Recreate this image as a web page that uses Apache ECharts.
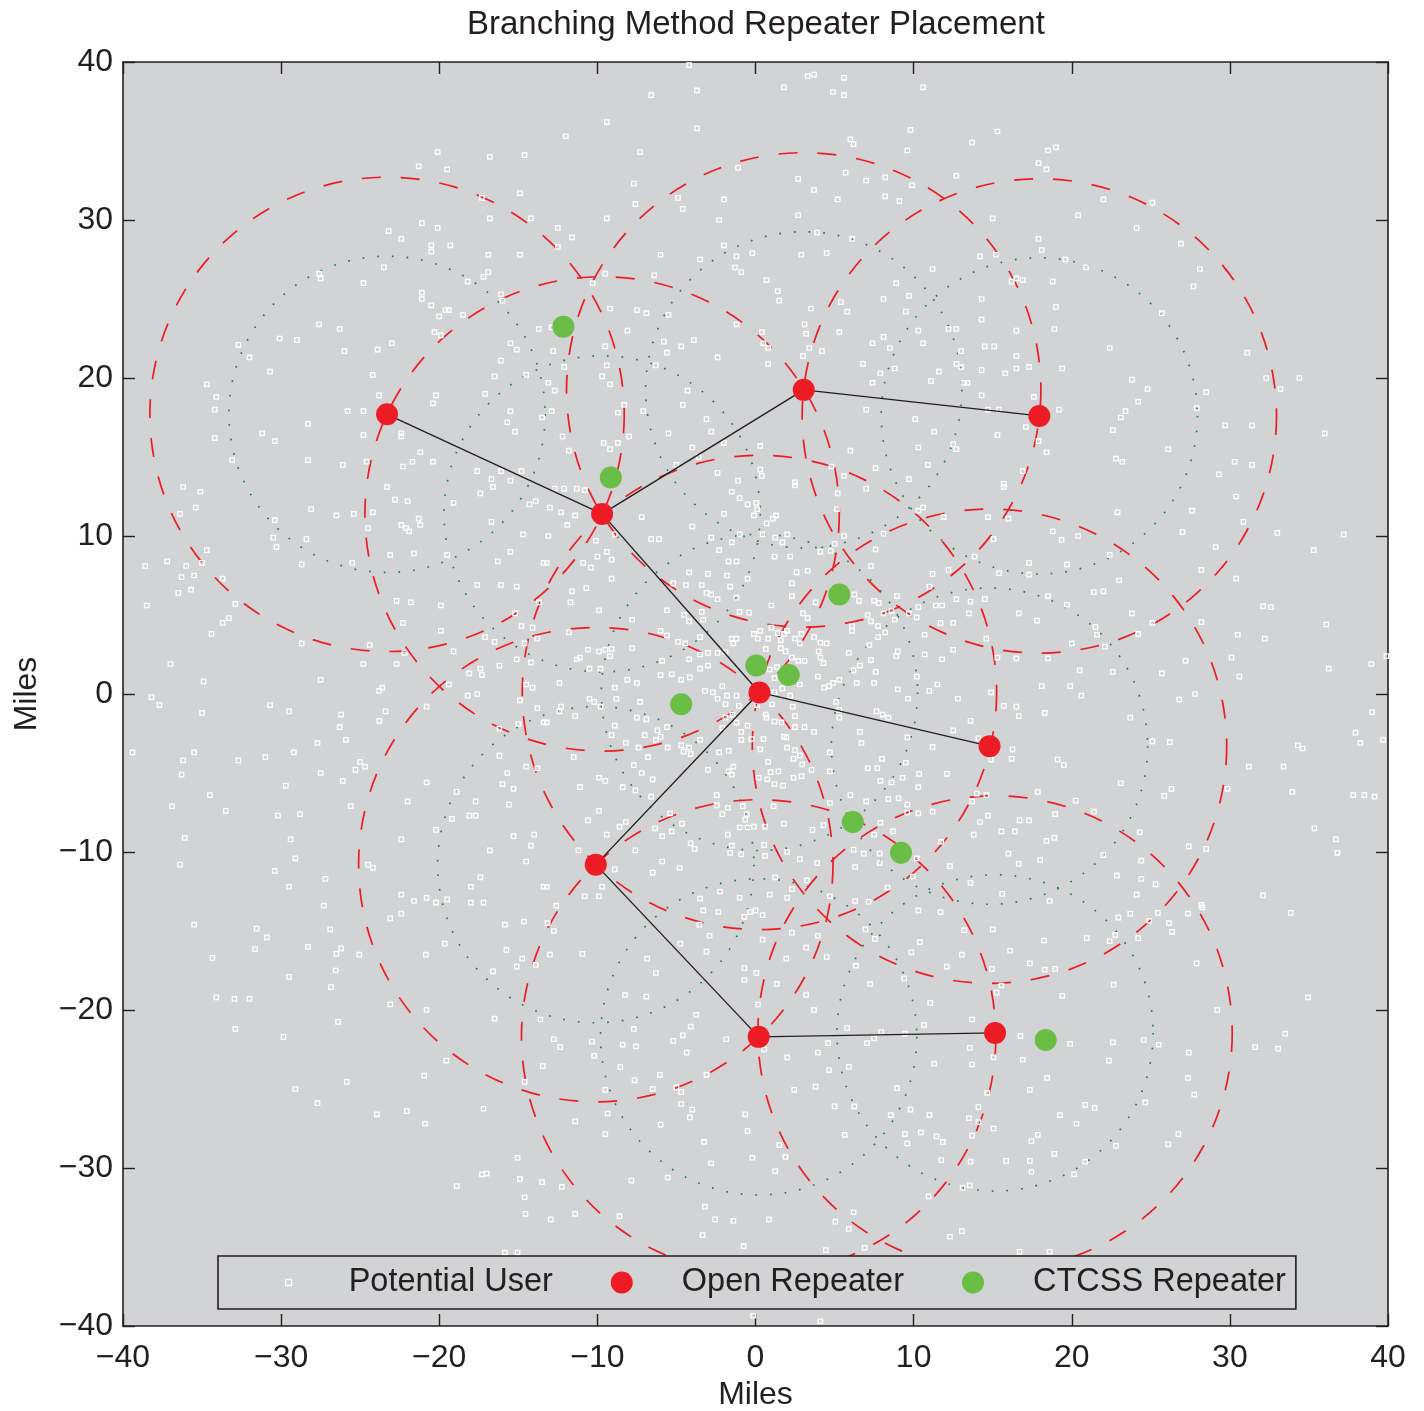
<!DOCTYPE html>
<html><head><meta charset="utf-8">
<script src="https://cdn.jsdelivr.net/npm/echarts@6/dist/echarts.min.js"></script>
<style>html,body{margin:0;padding:0;background:#fff}#c{width:1424px;height:1411px}</style>
</head><body><div id="c"></div><script>
// ---------- data ----------
const axisTicks = [-40, -30, -20, -10, 0, 10, 20, 30, 40];
const openRepeaters = [[-23.3,17.7],[-9.7,11.4],[3.05,19.25],[17.95,17.6],[0.25,0.1],[14.8,-3.3],[-10.1,-10.8],[0.2,-21.7],[15.15,-21.45]];
const ctcssRepeaters = [[-12.15,23.25],[-9.15,13.7],[5.3,6.3],[0.05,1.8],[2.1,1.2],[-4.7,-0.65],[6.15,-8.1],[9.2,-10.05],[18.35,-21.9]];
const treeLinks = [[0,1],[1,2],[2,3],[1,4],[4,5],[4,6],[6,7],[7,8]];
const outerRangeMiles = 15;
const innerRangeMiles = 10;
const users = [
[-20.1,34.3],[-16.8,34.0],[-14.6,34.1],[-21.3,33.4],[-19.5,33.2],[-14.9,31.7],[-17.3,31.4],[-16.8,30.1],[-14.2,30.1],[-21.1,29.8],[-20.1,29.5],[-23.2,29.3],[-22.4,28.8],[-20.5,28.4],[-19.3,28.4],[-20.5,28.0],[-16.9,27.8],[-14.9,27.8],[-23.5,27.0],[-27.6,26.6],[-27.5,26.3],[-16.9,26.7],[-17.2,26.4],[-18.2,26.1],[-24.8,26.0],[-21.1,25.4],[-21.1,25.0],[-16.1,25.3],[-16.0,24.9],[-20.5,24.6],[-19.6,24.3],[-19.4,24.3],[-20.0,23.9],[-18.5,24.0],[-13.7,23.1],[-27.6,23.4],[-26.3,23.1],[-20.3,22.9],[-19.9,22.7],[-30.1,22.5],[-29.0,22.4],[-32.7,22.1],[-32.0,21.3],[-26.0,21.7],[-23.9,21.8],[-23.0,22.2],[-15.5,22.2],[-15.1,21.8],[-16.1,21.1],[-30.7,20.4],[-24.2,20.2],[-16.5,20.1],[-14.5,20.2],[-34.7,19.6],[-34.1,18.8],[-23.8,18.9],[-20.2,18.9],[-20.4,18.4],[-17.1,19.0],[-34.2,18.0],[-25.8,17.9],[-24.8,17.9],[-15.5,17.9],[-15.7,17.2],[-13.5,17.5],[-28.3,17.1],[-31.2,16.5],[-30.4,16.0],[-24.8,16.4],[-22.4,16.5],[-22.4,16.3],[-15.2,16.6],[-34.2,16.2],[-33.1,14.8],[-28.3,14.8],[-26.1,14.5],[-24.6,14.7],[-21.2,15.3],[-21.7,14.7],[-20.4,14.7],[-22.3,14.4],[-17.6,14.1],[-16.1,14.1],[-14.8,14.1],[-16.7,13.6],[-15.5,13.5],
[-4.2,39.8],[-6.6,37.9],[-3.7,38.2],[-9.4,36.2],[-12.0,35.3],[-7.3,34.3],[-3.7,35.8],[3.3,39.1],[3.7,39.2],[5.6,39.0],[1.8,38.4],[4.9,38.1],[5.6,37.9],[10.6,38.4],[9.8,35.7],[6.0,35.1],[6.2,34.8],[9.6,34.4],[-1.1,33.3],[-7.7,32.3],[-7.6,31.0],[-4.9,31.4],[-4.6,30.7],[-2.0,31.3],[-2.3,30.0],[-9.4,30.1],[-12.5,29.5],[-11.6,28.9],[-12.5,28.3],[2.7,32.6],[3.7,31.9],[5.7,33.0],[7.0,32.5],[8.2,32.7],[9.9,32.2],[12.7,32.8],[5.2,31.3],[8.2,31.5],[9.1,31.2],[2.7,30.3],[3.9,29.2],[6.1,28.8],[-2.0,28.4],[-1.2,27.7],[-0.2,27.9],[-3.5,27.5],[-6.0,27.8],[-1.3,27.0],[-0.9,26.7],[2.9,27.8],[4.5,27.9],[11.2,26.9],[-9.5,26.6],[-6.4,26.5],[-10.3,26.0],[0.7,26.2],[1.4,25.5],[1.5,24.9],[8.9,26.0],[8.1,25.0],[9.7,25.2],[9.5,24.2],[5.4,24.8],[5.8,24.2],[3.5,24.4],[-9.2,24.4],[-7.5,24.3],[-6.9,24.1],[-5.5,24.0],[-1.2,23.4],[3.1,23.4],[3.2,22.8],[5.3,22.9],[0.4,22.9],[0.5,22.2],[0.8,21.9],[0.8,20.9],[-8.1,23.0],[-12.9,23.2],[10.3,23.0],[12.2,23.1],[12.7,23.1],[8.1,22.6],[7.4,22.2],[8.5,21.9],[10.6,22.2],[13.0,21.7],[-12.8,21.7],[-9.5,22.0],[-5.8,22.3],[-4.7,22.0],[-3.9,22.4],[-2.4,21.3],[-5.6,21.6],[-9.4,20.8],[-12.1,20.7],[-6.3,20.8],[-9.7,20.1],[-9.2,19.6],[-13.1,19.7],[-12.7,19.2],[3.0,21.4],[3.4,21.9],[4.2,21.7],[6.8,20.9],[7.9,20.3],[8.8,20.6],[12.7,20.9],[13.0,20.7],[11.6,20.4],[11.1,19.8],[7.4,19.7],[13.2,19.7],[-4.3,19.2],[-4.6,18.3],[-8.3,18.3],[-8.7,17.8],[-7.1,17.9],[-12.9,17.9],[-3.1,17.4],[-2.8,16.6],[-5.5,16.5],[-12.2,16.3],[-9.6,15.9],[-8.7,15.9],[-8.0,16.3],[-9.2,15.5],[-11.8,15.4],[-4.0,15.6],[-3.6,15.0],[-2.0,15.9],[0.3,15.7],[7.0,18.0],[10.1,17.4],[11.3,16.6],[10.3,15.6],[12.5,15.8],[12.7,15.5],[6.0,15.4],[10.9,14.5],[7.6,14.3],[5.6,13.8],[9.7,13.6],[4.8,14.4],[0.3,14.2],[0.4,13.8],[-2.4,14.0],[-1.1,13.5],[-5.0,14.5],[2.5,13.4],
[15.3,35.6],[13.7,34.9],[18.5,34.4],[19.0,34.6],[17.9,33.6],[18.4,33.2],[22.0,31.3],[25.1,31.1],[20.4,30.3],[15.0,30.1],[24.1,29.5],[26.9,28.5],[17.9,28.8],[18.1,28.1],[14.2,27.7],[15.2,27.8],[19.6,27.5],[20.9,27.0],[16.2,26.1],[16.5,26.3],[16.9,26.2],[18.8,26.1],[28.1,26.9],[27.7,25.8],[14.3,25.0],[19.0,24.5],[25.7,24.1],[14.3,23.7],[16.5,23.0],[18.9,23.1],[22.4,21.9],[31.1,21.6],[14.5,22.0],[15.1,22.0],[16.5,21.4],[14.3,20.5],[15.8,20.3],[16.5,20.6],[17.3,20.7],[19.4,20.6],[13.4,19.7],[23.8,19.9],[24.8,19.3],[32.3,20.0],[34.4,20.0],[33.2,19.3],[28.5,19.1],[14.3,18.9],[17.6,18.8],[24.2,18.5],[23.4,17.9],[23.1,17.5],[27.9,18.1],[14.7,18.0],[15.4,18.0],[19.2,18.0],[17.1,16.9],[22.6,16.7],[29.7,17.0],[31.4,17.0],[36.0,16.5],[15.3,16.4],[17.9,16.0],[18.4,15.3],[26.1,15.5],[22.8,14.9],[23.2,14.7],[30.3,14.7],[31.4,14.5],[29.3,13.9],[16.9,14.1],[15.7,13.3],
[-36.2,13.1],[-35.1,12.8],[-35.4,11.8],[-36.4,11.4],[-30.4,11.0],[-30.5,9.9],[-30.3,9.3],[-28.4,9.8],[-28.1,11.7],[-26.5,11.3],[-25.4,11.4],[-24.2,11.5],[-24.5,10.5],[-23.3,13.1],[-22.8,12.3],[-22.0,12.2],[-17.4,12.7],[-16.6,13.1],[-19.1,12.1],[-14.3,12.0],[-13.9,12.2],[-21.3,11.1],[-21.2,10.7],[-22.4,10.7],[-22.1,10.5],[-21.9,10.3],[-16.7,10.9],[-14.7,10.1],[-34.7,9.1],[-35.0,8.3],[-36.0,8.1],[-37.2,8.4],[-38.6,8.1],[-36.3,7.4],[-35.5,7.5],[-36.5,6.4],[-35.7,6.6],[-33.7,7.3],[-38.5,5.6],[-32.9,5.7],[-33.3,4.8],[-33.7,4.5],[-34.4,3.8],[-28.7,8.2],[-25.5,8.3],[-23.1,8.8],[-21.6,8.9],[-19.5,8.8],[-15.5,9.0],[-16.3,8.4],[-17.6,6.9],[-16.1,6.9],[-15.1,6.8],[-13.4,8.3],[-22.7,5.9],[-21.8,5.8],[-19.9,5.6],[-22.3,4.5],[-19.9,4.0],[-15.2,5.1],[-14.8,4.3],[-14.1,4.2],[-13.7,5.8],[-17.1,3.6],[-16.5,3.3],[-14.6,3.2],[-13.8,3.5],[-28.7,3.2],[-24.4,3.1],[-22.2,2.6],[-19.1,2.7],[-37.0,1.9],[-24.8,1.9],[-22.7,1.9],[-15.1,2.2],[-14.2,2.0],[-16.2,1.8],[-17.4,1.6],[-17.3,1.2],[-18.1,1.3],[-34.9,0.8],[-27.5,0.9],[-19.4,0.6],[-23.6,0.4],[-23.8,0.2],[-14.5,0.6],[-14.1,0.4],[-17.6,0.0],[-18.2,-0.1],[-38.2,-0.2],[-37.7,-0.7],[-35.0,-1.2],[-30.7,-0.7],[-29.5,-1.1],[-26.2,-1.3],[-23.4,-1.1],[-20.8,-0.8],[-23.8,-1.7],[-26.3,-2.1],[-25.9,-2.9],[-14.9,-0.4],[-13.8,-0.9],[-13.4,-1.8],[-15.0,-1.9],[-16.2,-2.2],[-27.7,-3.1],[-39.4,-3.7],[-35.5,-3.7],[-36.2,-4.2],[-32.7,-4.2],[-31.0,-4.0],[-29.2,-3.7],[-25.0,-4.3],[-25.3,-4.8],[-24.7,-4.6],[-16.2,-3.9],[-14.5,-4.6],[-13.8,-4.7],[-36.3,-5.1],[-27.5,-5.0],[-26.1,-5.5],[-20.8,-5.6],[-29.7,-5.8],[-15.7,-5.0],[-16.0,-5.7],[-15.3,-6.0],[-34.5,-6.4],[-18.9,-6.2],[-22.0,-6.8],[-17.7,-6.8],[-15.6,-7.0],[-36.9,-7.1],[-33.5,-7.4],[-30.2,-7.7],[-28.8,-7.6],[-25.6,-7.1],[-19.2,-7.9],[-18.1,-7.7],[-17.7,-7.7],[-20.2,-8.6],[-36.1,-9.1],[-29.4,-9.2],[-22.4,-9.2],[-15.3,-9.0],[-14.0,-8.9],[-14.2,-9.6],[-16.8,-9.9],[-14.5,-10.6],[-36.4,-10.8],[-29.1,-10.4],[-30.4,-11.2],[-24.5,-10.8],[-24.2,-11.0],[-27.2,-11.7],[-29.5,-12.2],[-17.4,-11.6],[-18.0,-12.2],[-13.4,-12.2],[-22.4,-12.7],[-21.6,-13.1],[-20.8,-12.9],[-20.2,-13.2],[-19.5,-13.0],[-18.0,-13.2],[-17.2,-13.2],[-27.3,-13.4],
[-12.7,13.0],[-12.1,13.0],[-11.3,13.0],[-10.8,12.9],[-13.0,11.8],[-12.3,11.5],[-11.4,11.3],[-11.9,10.7],[-13.1,10.0],[-7.2,11.2],[-8.9,10.1],[-10.1,9.7],[-9.4,9.0],[-9.1,8.5],[-10.9,8.3],[-10.4,8.0],[-10.0,8.7],[-13.2,8.3],[-9.1,7.3],[-11.6,6.5],[-10.7,6.7],[-11.7,5.8],[-9.9,5.3],[-7.8,4.7],[-11.8,3.9],[-7.8,2.9],[-10.6,2.8],[-9.9,2.7],[-9.5,2.8],[-9.1,2.85],[-9.2,2.4],[-11.1,2.3],[-11.3,2.2],[-10.5,1.6],[-12.4,0.7],[-9.8,1.6],[-8.1,0.9],[-7.5,0.7],[-8.9,0.4],[-10.5,-0.3],[-10.2,-0.5],[-9.8,-0.8],[-12.4,-1.1],[-12.3,-0.8],[-11.4,-1.4],[-13.2,-1.8],[-8.8,-0.3],[-7.3,-0.5],[-8.9,-2.0],[-9.1,-2.6],[-8.2,-3.1],[-7.4,-3.4],[-7.5,-1.5],[-6.9,-1.6],[-7.0,-2.6],[-6.2,-2.3],[-6.0,-2.7],[-5.6,-2.1],[-6.3,-2.9],[-6.8,-4.0],[-7.7,-4.5],[-11.5,-4.0],[-9.9,-5.3],[-9.5,-5.5],[-11.1,-5.9],[-8.4,-5.9],[-7.6,-6.1],[-7.2,-5.0],[-6.5,-5.4],[-6.6,-6.5],[-9.9,-7.4],[-10.6,-8.0],[-9.4,-8.9],[-8.6,-8.4],[-8.2,-8.1],[-7.6,-9.9],[-8.9,-11.1],[-11.2,-9.9],[-5.9,-10.6],[-6.5,-11.3],[-4.8,-11.0],[-10.8,-12.8],[-9.9,-12.8],[-9.7,-12.2],[-13.2,-12.2],[-12.6,-13.4],
[-6.6,9.8],[-6.1,9.8],[-4.2,7.7],[-3.0,7.6],[-1.8,7.5],[-5.2,7.0],[-4.4,6.9],[-3.4,6.9],[-3.1,6.4],[-2.8,6.3],[-2.4,6.0],[-1.6,6.8],[-1.7,8.4],[-1.2,8.4],[-2.3,9.1],[-2.8,9.9],[-1.5,9.6],[-1.0,10.1],[-2.0,11.4],[-4.0,10.6],[-1.5,12.8],[-1.0,12.4],[-0.5,12.0],[0.05,12.1],[0.1,11.7],[-0.1,11.3],[0.45,10.1],[0.7,10.8],[1.1,11.1],[1.3,11.3],[1.25,9.9],[1.7,9.6],[2.0,10.1],[1.2,8.7],[2.2,8.7],[2.5,13.2],[4.1,9.0],[4.75,9.05],[5.0,9.5],[5.6,10.0],[5.2,12.7],[5.15,11.7],[7.0,13.0],[7.6,9.15],[8.1,10.15],[7.3,8.1],[10.6,11.8],[10.3,11.6],[11.9,11.2],[12.2,7.85],[11.2,7.6],[11.0,6.8],[12.7,6.0],[2.6,7.7],[3.3,7.8],[2.3,7.0],[-0.5,7.3],[-1.2,6.1],[2.3,6.2],[1.0,5.6],[3.8,5.8],[3.0,5.1],[3.3,4.8],[6.25,6.3],[6.55,5.9],[7.5,5.9],[7.8,5.75],[8.95,6.2],[7.1,5.0],[7.3,4.6],[8.1,5.1],[8.6,5.25],[8.8,4.7],[9.7,5.1],[10.3,5.5],[11.4,5.6],[11.8,5.6],[10.2,4.85],[11.7,4.5],[12.5,4.5],[6.1,4.3],[6.1,4.0],[7.75,4.3],[7.75,3.6],[8.2,3.9],[10.7,3.75],[12.5,2.8],[-3.4,5.2],[-3.3,4.7],[-4.5,5.0],[-4.2,4.6],[-5.6,5.3],[-1.0,5.2],[-0.4,5.15],[-6.0,4.0],[-5.6,3.7],[-4.9,3.3],[-4.45,3.2],[-3.5,3.6],[-4.2,2.2],[-3.5,2.5],[-3.0,2.6],[-2.4,2.6],[-1.9,2.65],[-1.5,3.5],[-1.2,3.5],[-1.4,3.2],[-0.1,3.8],[0.3,4.0],[0.15,3.5],[0.8,3.5],[1.0,4.2],[1.4,3.85],[1.8,3.8],[2.0,4.0],[2.9,3.8],[2.5,3.5],[1.6,3.4],[1.6,2.9],[0.65,2.85],[2.8,3.2],[1.9,2.7],[2.3,2.3],[2.7,2.1],[3.1,2.1],[3.7,3.6],[4.1,3.25],[4.5,3.2],[4.0,2.7],[4.1,2.3],[4.3,1.95],[5.9,2.6],[6.2,1.5],[6.6,1.8],[7.2,3.1],[7.3,2.15],[7.6,1.4],[8.9,2.4],[9.0,2.7],[10.2,1.1],[10.7,2.5],[9.0,0.3],[9.65,-0.3],[11.0,0.2],[11.5,0.6],[12.8,-0.3],[11.8,2.2],[7.5,0.7],[6.4,0.7],[5.3,0.9],[4.9,0.7],[4.35,0.4],[4.65,0.5],[3.95,1.1],[5.1,-0.5],[2.8,0.6],[2.2,0.7],[1.7,0.35],[2.2,-0.1],[1.2,0.1],[1.2,1.0],[0.9,1.55],[1.35,1.7],[-3.0,1.8],[-3.5,1.6],[-5.9,2.1],[-6.0,1.2],[-5.3,1.25],[-4.7,0.9],[-4.15,1.05],[-3.2,0.2],[-2.7,0.1],[-2.1,0.5],[-2.4,-0.3],[-1.8,-0.1],[-1.2,-0.1],[-1.05,-0.75],[-1.9,-0.65],[-1.45,-1.3],[-1.9,-1.5],[-2.1,-2.15],[-1.2,-1.8],[-0.5,-2.0],[-0.9,-2.4],[0.65,-1.3],[0.1,-0.7],[1.05,-0.65],[0.7,-1.5],[1.2,-1.75],[1.65,-1.8],[1.8,-2.7],[2.35,-0.8],[2.5,-1.4],[2.5,-2.1],[3.1,-2.1],[3.7,-2.4],[4.7,-3.7],[5.3,-1.5],[5.3,-1.0],[6.6,-2.4],[6.7,-3.1],[7.65,-1.1],[8.05,-1.3],[8.4,-1.5],[9.6,-2.75],[11.2,-3.35],[12.5,-2.3],[8.0,-4.1],[9.5,-4.35],[8.6,-5.6],[9.3,-5.3],[10.35,-5.05],[10.3,-5.9],[12.1,-5.05],[7.1,-4.7],[7.7,-4.7],[7.9,-5.5],[8.4,-6.65],[9.05,-6.6],[9.6,-7.0],[9.6,-7.5],[10.3,-7.55],[11.2,-7.45],[11.75,-9.35],[7.0,-6.8],[6.0,-6.4],[4.7,-6.9],[4.7,-4.9],[3.55,-4.8],[2.9,-5.2],[2.4,-5.3],[1.75,-5.8],[1.2,-5.7],[0.75,-5.4],[0.95,-4.95],[1.45,-4.9],[0.8,-4.3],[0.3,-3.5],[0.5,-2.85],[-0.25,-2.85],[-0.9,-2.9],[-1.7,-3.6],[-2.3,-3.7],[-1.7,-4.9],[-1.4,-4.6],[-1.5,-5.1],[-3.0,-4.8],[-3.5,-2.9],[-4.2,-3.4],[-4.55,-3.65],[-4.1,-3.8],[-4.7,-3.25],[-5.55,-3.4],[1.95,-2.75],[2.0,-3.4],[2.5,-3.55],[2.4,-4.1],[2.8,-3.9],[0.2,-5.3],[2.95,-4.45],[4.3,-8.3],[3.6,-8.6],[1.8,-8.2],[-0.5,-8.45],[-0.1,-8.4],[0.6,-8.4],[-1.0,-8.45],[-0.65,-7.95],[-0.55,-7.6],[-0.8,-7.1],[-2.1,-7.6],[-2.45,-7.05],[-2.45,-6.4],[-1.75,-7.2],[-1.75,-8.9],[-1.5,-9.6],[-1.6,-10.05],[-0.9,-10.15],[0.55,-9.55],[0.6,-10.25],[2.0,-10.0],[2.8,-10.45],[3.9,-10.7],[1.15,-7.1],[6.3,-10.95],[6.2,-9.85],[6.85,-10.1],[7.5,-8.9],[7.85,-10.1],[7.85,-10.7],[7.9,-8.15],[8.7,-8.7],[12.3,-10.9],[1.25,-11.6],[2.3,-12.35],[3.25,-11.8],[2.0,-12.9],[0.9,-12.7],[-1.0,-12.9],[-2.25,-12.5],[-3.5,-12.95],[-5.3,-8.7],[-4.65,-8.2],[-5.4,-7.55],[-4.1,-9.45],[-3.85,-9.8],[-6.35,-8.5],[-5.9,-9.0],[4.7,-12.8],[6.3,-13.1],[7.15,-13.15],[9.95,-11.55],[10.2,-10.4],[8.35,-12.25],
[15.7,13.1],[30.4,12.5],[27.6,11.6],[22.9,11.5],[14.7,11.2],[16.0,11.1],[30.85,10.9],[27.0,10.25],[33.0,10.2],[37.2,10.1],[35.3,9.1],[18.8,10.3],[19.35,9.75],[20.4,10.0],[15.05,9.8],[29.1,9.3],[22.4,8.8],[13.85,8.7],[17.3,8.3],[19.7,8.2],[15.4,7.65],[17.3,7.55],[28.2,7.85],[30.4,7.3],[23.0,7.2],[21.4,6.45],[22.0,6.5],[18.5,6.2],[13.6,5.85],[14.5,6.0],[13.5,5.1],[16.65,5.1],[17.8,4.65],[19.7,5.65],[32.1,5.55],[32.6,5.5],[36.1,4.4],[23.8,5.1],[28.2,4.55],[21.5,4.25],[21.6,3.75],[25.1,4.5],[24.2,3.8],[30.5,3.75],[32.2,3.5],[14.6,3.5],[20.0,3.2],[22.1,3.0],[15.3,2.3],[16.5,2.25],[18.5,2.25],[27.2,2.1],[30.1,2.3],[36.25,1.6],[38.95,1.9],[39.9,2.4],[20.5,1.5],[22.6,1.4],[25.7,1.3],[30.6,1.1],[18.1,0.5],[19.9,0.5],[20.6,-0.1],[14.9,0.1],[15.7,-0.75],[16.5,-0.8],[16.65,-1.4],[18.3,-1.2],[26.8,-0.35],[27.8,0.0],[39.0,-1.15],[13.6,-1.7],[23.7,-1.5],[14.1,-2.8],[16.25,-3.5],[16.2,-4.1],[14.9,-4.15],[19.1,-4.15],[19.5,-4.5],[25.1,-3.0],[26.2,-3.05],[37.95,-2.45],[38.25,-3.1],[39.7,-2.9],[34.3,-3.25],[34.6,-3.45],[31.2,-4.6],[33.4,-4.6],[23.1,-5.65],[26.3,-6.0],[25.85,-6.45],[29.85,-6.0],[33.95,-6.2],[37.8,-6.4],[38.5,-6.4],[39.15,-6.5],[14.0,-6.3],[14.6,-6.4],[13.7,-6.8],[17.85,-6.2],[20.25,-6.75],[21.4,-7.45],[18.95,-7.6],[14.7,-7.7],[14.2,-8.1],[16.7,-8.0],[17.3,-8.0],[13.8,-8.9],[15.55,-8.7],[16.4,-8.7],[18.4,-9.3],[18.9,-9.1],[24.3,-8.75],[35.35,-8.5],[36.7,-9.2],[36.8,-10.05],[16.0,-10.1],[16.65,-10.75],[18.0,-10.5],[22.0,-10.2],[27.4,-9.65],[28.5,-9.8],[24.4,-10.55],[22.85,-11.5],[24.4,-11.7],[25.3,-12.05],[24.1,-12.7],[13.6,-11.95],[15.6,-12.65],[18.6,-13.1],[32.1,-12.75],[28.2,-13.35],
[-35.5,-14.6],[-34.35,-16.7],[-31.55,-14.85],[-30.9,-15.4],[-31.65,-16.15],[-28.3,-16.0],[-26.9,-14.9],[-26.5,-16.45],[-26.2,-16.1],[-26.55,-17.5],[-29.5,-17.9],[-26.85,-18.55],[-25.05,-16.5],[-23.1,-14.2],[-22.4,-13.9],[-20.85,-16.5],[-19.65,-15.8],[-15.85,-14.6],[-14.65,-14.4],[-15.75,-16.2],[-14.75,-16.75],[-15.1,-17.25],[-13.9,-17.15],[-16.6,-17.55],[-34.1,-19.2],[-32.95,-19.3],[-32.0,-19.3],[-32.9,-21.2],[-29.85,-21.7],[-26.4,-20.75],[-23.1,-19.65],[-20.8,-20.0],[-16.5,-20.55],[-13.6,-20.6],[-19.55,-23.2],[-20.95,-24.15],[-14.6,-24.55],[-13.45,-23.55],[-29.1,-25.0],[-27.7,-25.9],[-25.85,-24.55],[-23.95,-26.6],[-22.05,-26.4],[-20.9,-27.2],[-17.2,-26.25],[-15.05,-29.35],[-17.3,-30.4],[-17.0,-30.35],[-18.9,-31.15],[-14.9,-30.7],[-13.5,-30.9],[-14.6,-31.85],[-14.55,-32.9],[-15.85,-35.35],[-15.05,-35.35],
[-13.15,-14.5],[-12.75,-15.0],[-13.0,-16.5],[-10.95,-16.45],[-6.85,-16.75],[-6.3,-17.65],[-8.25,-19.05],[-6.9,-19.15],[-4.75,-15.8],[-3.55,-14.6],[-2.9,-15.3],[-3.3,-13.7],[-2.35,-13.8],[-3.1,-16.3],[-0.7,-14.1],[-0.35,-13.8],[0.0,-13.7],[0.45,-14.0],[0.45,-15.55],[2.3,-15.1],[3.95,-15.3],[3.2,-16.05],[1.95,-16.75],[4.5,-16.65],[-0.7,-17.35],[0.05,-17.65],[-0.7,-18.1],[1.35,-18.35],[3.2,-19.05],[3.7,-20.0],[0.15,-19.65],[6.95,-14.9],[7.55,-15.5],[10.4,-15.7],[9.85,-16.35],[11.7,-13.8],[10.3,-13.7],[13.2,-14.95],[13.05,-16.5],[12.1,-17.25],[6.35,-17.2],[7.25,-18.35],[9.4,-18.0],[11.05,-19.55],[10.65,-20.95],[9.45,-21.5],[7.95,-21.4],[7.5,-21.8],[7.05,-22.1],[5.8,-21.15],[4.6,-22.1],[3.95,-22.7],[2.0,-23.0],[0.55,-22.5],[-1.85,-21.85],[-3.75,-20.3],[-4.1,-21.05],[-4.6,-21.6],[-5.2,-21.95],[-4.35,-22.7],[-7.7,-21.2],[-10.35,-22.0],[-12.35,-22.35],[-12.75,-21.85],[-10.2,-22.9],[-8.4,-22.2],[-7.55,-22.3],[-8.55,-23.6],[-7.65,-24.45],[-9.5,-25.05],[-6.5,-25.0],[-6.05,-24.1],[-5.0,-24.9],[-4.7,-25.2],[-3.1,-24.1],[-4.7,-25.95],[-4.0,-26.3],[-4.15,-26.8],[-6.0,-27.25],[-9.35,-26.55],[-9.5,-27.85],[-11.4,-27.05],[5.9,-23.6],[4.65,-23.8],[3.8,-24.85],[2.45,-25.05],[11.3,-23.4],[8.95,-24.95],[5.0,-26.1],[6.25,-26.1],[8.55,-26.65],[9.8,-26.3],[11.0,-26.65],[9.45,-27.85],[10.45,-27.75],[9.6,-28.45],[11.45,-28.0],[11.85,-28.35],[5.65,-27.9],[-0.65,-26.6],[-0.5,-27.65],[1.5,-28.55],[1.9,-29.3],[1.25,-30.2],[-0.2,-29.35],[-2.8,-29.7],[-3.25,-28.35],[-5.55,-30.6],[-7.85,-30.8],[-12.25,-31.2],[-11.4,-32.9],[-12.95,-33.25],[-8.6,-33.05],[-3.2,-32.45],[-2.55,-33.25],[-1.4,-33.35],[0.85,-33.25],[5.05,-33.4],[5.9,-33.85],[6.2,-32.8],[-3.35,-34.25],[-0.75,-34.95],[4.45,-35.2],[6.9,-35.05],[11.75,-29.5],[10.95,-31.8],[13.1,-31.25],[12.3,-34.35],[13.05,-34.0],[-0.15,-39.35],[4.1,-39.7],
[33.85,-13.85],[28.25,-13.5],[27.35,-13.9],[26.15,-14.5],[26.35,-15.05],[25.45,-13.85],[24.9,-14.35],[23.7,-13.9],[22.95,-14.15],[24.2,-15.45],[22.75,-15.25],[22.4,-15.65],[20.95,-15.45],[18.25,-15.6],[15.0,-14.9],[16.1,-16.25],[17.35,-17.05],[18.3,-17.45],[18.95,-17.4],[14.95,-17.4],[15.55,-18.45],[15.25,-18.9],[19.4,-19.1],[27.9,-17.05],[22.65,-18.4],[34.95,-19.2],[29.2,-20.0],[13.7,-20.6],[16.75,-21.65],[19.9,-22.15],[22.6,-22.05],[22.35,-23.2],[24.55,-21.9],[25.5,-22.2],[27.4,-22.7],[31.6,-22.35],[33.05,-22.45],[33.5,-21.5],[13.55,-22.4],[13.7,-23.45],[15.05,-23.0],[16.9,-23.15],[18.45,-24.3],[27.35,-24.3],[27.75,-25.35],[17.35,-25.05],[24.65,-25.85],[20.85,-26.0],[21.45,-26.2],[14.65,-25.25],[14.1,-26.15],[13.5,-26.85],[14.1,-27.1],[15.05,-27.5],[13.7,-27.95],[19.25,-26.65],[20.3,-27.2],[17.85,-27.9],[17.45,-28.3],[18.9,-29.1],[15.85,-29.55],[17.35,-29.55],[17.45,-30.25],[13.6,-29.6],[13.55,-31.1],[26.75,-27.85],[26.1,-28.5],[22.8,-28.6],[20.85,-29.6],[20.15,-30.4],[16.7,-35.3],[18.6,-35.3]
];

// ---------- chart ----------
const INK = '#231f20';
const RED = '#ed1c24';
const GREEN = '#6abd45';
const FONT = "'Liberation Sans', Arial, Helvetica, sans-serif";
const fmt = v => v < 0 ? '\u2212' + Math.abs(v) : String(v);

const chart = echarts.init(document.getElementById('c'), null, {renderer: 'canvas', width: 1424, height: 1411});

function axisBase(pos, showLabel) {
  return {
    type: 'value', position: pos,
    min: axisTicks[0], max: axisTicks[axisTicks.length - 1], interval: axisTicks[1] - axisTicks[0],
    axisLine: {show: true, onZero: false, lineStyle: {color: INK, width: 1.6}},
    axisTick: {show: true, inside: true, length: 12, lineStyle: {color: INK, width: 1.4}},
    splitLine: {show: false},
    axisLabel: {show: showLabel, fontSize: 32, color: INK, fontFamily: FONT, formatter: fmt, showMinLabel: true, showMaxLabel: true}
  };
}

const xBottom = axisBase('bottom', true);
xBottom.axisLabel.margin = 16;
xBottom.name = 'Miles'; xBottom.nameLocation = 'middle'; xBottom.nameGap = 53;
xBottom.nameTextStyle = {fontSize: 32, color: INK, fontFamily: FONT};
const xTop = axisBase('top', false);
const yLeft = axisBase('left', true);
yLeft.axisLabel.margin = 10;
yLeft.name = 'Miles'; yLeft.nameLocation = 'middle'; yLeft.nameGap = 80;
yLeft.nameTextStyle = {fontSize: 32, color: INK, fontFamily: FONT};
const yRight = axisBase('right', false);

function circleSeries(radius, style, z) {
  return {
    type: 'custom', xAxisIndex: 0, yAxisIndex: 0, silent: true, z: z,
    data: openRepeaters.map(p => [p[0], p[1], radius]),
    encode: {x: 0, y: 1},
    renderItem: function (params, api) {
      const c = api.coord([api.value(0), api.value(1)]);
      const r = api.size([api.value(2), 0])[0];
      return {type: 'circle', shape: {cx: c[0], cy: c[1], r: r}, style: Object.assign({fill: 'none'}, style)};
    }
  };
}

chart.setOption({
  animation: false,
  textStyle: {fontFamily: FONT},
  title: {
    text: 'Branching Method Repeater Placement', left: 467, top: 8, padding: 0,
    textStyle: {fontSize: 33, fontWeight: 'normal', color: INK, fontFamily: FONT}
  },
  grid: {left: 123, top: 62, width: 1265, height: 1264, show: true, backgroundColor: '#d1d3d4', borderWidth: 0, containLabel: false, outerBoundsMode: 'none'},
  xAxis: [xBottom, xTop],
  yAxis: [yLeft, yRight],
  legend: {
    left: 218, top: 1256, orient: 'horizontal', selectedMode: false,
    padding: [10, 10, 10, 59], itemWidth: 22, itemHeight: 22, itemGap: 58,
    backgroundColor: '#d1d3d4', borderColor: INK, borderWidth: 1.6, borderRadius: 0,
    textStyle: {fontSize: 32.5, color: INK, fontFamily: FONT, padding: [0, 0, 0, 44]},
    data: [
      {name: 'Potential User', icon: 'path://M0,0M22,22M8,8L14,8L14,14L8,14Z', itemStyle: {color: 'rgba(0,0,0,0)', borderColor: '#ffffff', borderWidth: 1.3, opacity: 1}},
      {name: 'Open Repeater', icon: 'circle', itemStyle: {opacity: 1}},
      {name: 'CTCSS Repeater', icon: 'circle', itemStyle: {opacity: 1}}
    ]
  },
  series: [
    circleSeries(innerRangeMiles, {stroke: '#217a55', lineWidth: 1.7, lineDash: [1.7, 13]}, 1),
    circleSeries(outerRangeMiles, {stroke: RED, lineWidth: 1.7, lineDash: [19, 20]}, 1),
    {
      name: 'Potential User', type: 'scatter', xAxisIndex: 0, yAxisIndex: 0, z: 2, silent: true,
      symbol: 'rect', symbolSize: 4.4,
      itemStyle: {color: 'rgba(0,0,0,0)', borderColor: '#ffffff', borderWidth: 1.3, opacity: 1},
      data: users
    },
    {
      type: 'lines', coordinateSystem: 'cartesian2d', xAxisIndex: 0, yAxisIndex: 0, z: 3, silent: true,
      lineStyle: {color: INK, width: 1.4, opacity: 1},
      data: treeLinks.map(l => ({coords: [openRepeaters[l[0]], openRepeaters[l[1]]]}))
    },
    {
      name: 'Open Repeater', type: 'scatter', xAxisIndex: 0, yAxisIndex: 0, z: 4, silent: true,
      symbol: 'circle', symbolSize: 22, itemStyle: {color: RED, opacity: 1},
      data: openRepeaters
    },
    {
      name: 'CTCSS Repeater', type: 'scatter', xAxisIndex: 0, yAxisIndex: 0, z: 5, silent: true,
      symbol: 'circle', symbolSize: 22, itemStyle: {color: GREEN, opacity: 1},
      data: ctcssRepeaters
    }
  ]
});
</script></body></html>
